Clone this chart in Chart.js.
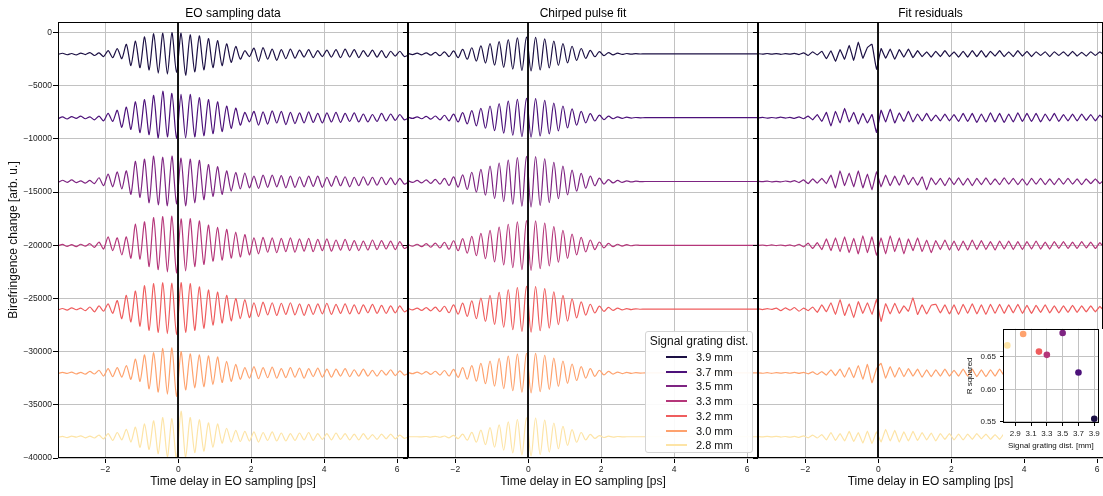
<!DOCTYPE html>
<html lang="en">
<head>
  <meta charset="UTF-8" />
  <title>EO sampling - chirped pulse fits</title>
  <script src="https://cdn.jsdelivr.net/npm/chart.js"></script>
  <style>
    * { margin: 0; padding: 0; box-sizing: border-box; }
    body {
      width: 1103px; height: 496px; background: #fff;
      position: relative; overflow: hidden;
      font-family: 'Liberation Sans', Arial, sans-serif;
    }
    canvas { position: absolute; top: 0; }
    #legend {
      position: absolute; left: 645px; top: 331px; width: 108px; height: 122px;
      border: 1px solid #d4d4d4; border-radius: 3px;
      background: rgba(255, 255, 255, 0.92);
      font-size: 11px; color: #111;
    }
    #legend .lg-title { position: absolute; left: 0; right: 0; top: 2px; font-size: 12px; line-height: 15px; text-align: center; }
    #legend .lg-row { position: absolute; left: 20px; height: 14px; line-height: 14px; }
    #legend .lg-line { position: absolute; left: 0; top: 6px; width: 21px; height: 2px; }
    #legend .lg-text { position: absolute; left: 30px; top: 0; white-space: nowrap; }
  </style>
</head>
<body>
  <canvas id="panelData" width="412" height="496" style="left:0px"></canvas>
  <canvas id="panelFit" width="362" height="496" style="left:400px"></canvas>
  <canvas id="panelRes" width="353" height="496" style="left:750px"></canvas>
  <canvas id="inset" width="143" height="137" style="left:960px; top:320px"></canvas>
  <div id="legend"></div>

  <script>
    // time delay grid [ps]
    const timePs = [
      -3.3, -3.175, -3.05, -2.925, -2.8, -2.675, -2.55, -2.425, -2.3, -2.175,
      -2.05, -1.925, -1.8, -1.675, -1.55, -1.425, -1.3, -1.175, -1.05, -0.925,
      -0.8, -0.675, -0.55, -0.425, -0.3, -0.175, -0.05, 0.075, 0.2, 0.325,
      0.45, 0.575, 0.7, 0.825, 0.95, 1.075, 1.2, 1.325, 1.45, 1.575,
      1.7, 1.825, 1.95, 2.075, 2.2, 2.325, 2.45, 2.575, 2.7, 2.825,
      2.95, 3.075, 3.2, 3.325, 3.45, 3.575, 3.7, 3.825, 3.95, 4.075,
      4.2, 4.325, 4.45, 4.575, 4.7, 4.825, 4.95, 5.075, 5.2, 5.325,
      5.45, 5.575, 5.7, 5.825, 5.95, 6.075, 6.2, 6.325
    ];

    const gratingLabels = ['3.9 mm', '3.7 mm', '3.5 mm', '3.3 mm', '3.2 mm', '3.0 mm', '2.8 mm'];
    const gratingDist = [3.9, 3.7, 3.5, 3.3, 3.2, 3.0, 2.8];
    const traceColors = ['#1c1044', '#4c117a', '#7e2482', '#b5367a', '#ef5d5e', '#fea26e', '#fde4a6'];
    const traceOffsets = [-2000, -8000, -14000, -20000, -26000, -32000, -38000];
    const rSquared = [0.555, 0.626, 0.6865, 0.653, 0.658, 0.685, 0.6675];

    const yTicks = [-40000, -35000, -30000, -25000, -20000, -15000, -10000, -5000, 0];
    const rsqXTicks = [2.9, 3.1, 3.3, 3.5, 3.7, 3.9];
    const rsqYTicks = [0.55, 0.60, 0.65];

    // EO sampling data (deviation from trace offset)
    const eoData39 = [
      -50, 60, -80, 40, -100, 80, -60, 120, -150, 100,
      -250, 300, -350, 500, -450, 900, -1100, 1200, -1300, 1600,
      -1500, 1900, -1800, 1950, -1900, 2000, -1750, 1950, -2000, 1800,
      -1700, 1700, -1500, 1450, -1300, 1250, -1100, 950, -800, 700,
      -500, 300, -250, 550, -700, 600, -500, 450, -600, 400,
      -450, 450, -400, 350, -300, 400, -350, 300, -250, 350,
      -300, 400, -350, 450, -300, 400, -350, 300, -250, 350,
      -300, 300, -350, 250, -200, 250, -250, -100
    ];
    const eoData37 = [
      -100, 80, -120, 100, -60, 150, -100, 80, -200, 150,
      -300, 400, -350, 700, -900, 1000, -1100, 1500, -1400, 1700,
      -1600, 2100, -1900, 2500, -1800, 2300, -1950, 2200, -1900, 2200,
      -1800, 1900, -1700, 1700, -1500, 1500, -1300, 1100, -1000, 900,
      -700, 500, -400, 600, -700, 550, -600, 650, -500, 600,
      -650, 500, -550, 450, -500, 550, -450, 400, -500, 450,
      -400, 500, -450, 400, -350, 450, -400, 350, -400, 300,
      -350, 400, -300, 350, -250, 300, -200, 0
    ];
    const eoData35 = [
      -100, 120, -80, 150, -100, 60, -150, 100, -200, 350,
      -400, 700, -500, 900, -700, 1000, -1200, 1900, -1500, 2100,
      -2000, 2400, -2200, 2300, -2300, 2400, -2100, 2200, -2300, 2100,
      -2000, 2000, -1700, 1600, -1400, 1400, -1200, 1000, -900, 850,
      -700, 800, -600, 500, -650, 600, -550, 600, -500, 550,
      -600, 500, -550, 450, -500, 500, -450, 500, -550, 400,
      -450, 500, -400, 450, -500, 400, -400, 450, -350, 400,
      -350, 400, -300, 350, -300, 300, -250, 0
    ];
    const eoData33 = [
      -50, 80, -100, 60, -120, 100, -80, 150, -200, 300,
      -350, 800, -500, 700, -900, 800, -1200, 2000, -1300, 2200,
      -2000, 2600, -2300, 2700, -2500, 2750, -2600, 2500, -2400, 2500,
      -2000, 2300, -1800, 1900, -1500, 1700, -1400, 1500, -1200, 1250,
      -1100, 1000, -900, 700, -800, 750, -650, 700, -700, 650,
      -600, 700, -650, 600, -550, 650, -600, 550, -500, 600,
      -550, 500, -450, 550, -500, 450, -500, 400, -450, 500,
      -400, 450, -350, 400, -400, 350, -300, 0
    ];
    const eoData32 = [
      -80, 60, -100, 120, -60, 100, -150, 200, -250, 300,
      -200, 500, -400, 800, -900, 1300, -1200, 1700, -1600, 2200,
      -2000, 2400, -2200, 2500, -2300, 2450, -2400, 2500, -2200, 2400,
      -2000, 2100, -1800, 1800, -1500, 1600, -1300, 1300, -1100, 1000,
      -900, 900, -800, 600, -700, 650, -550, 600, -600, 550,
      -500, 600, -550, 500, -600, 450, -500, 500, -450, 550,
      -500, 450, -400, 500, -450, 400, -450, 400, -350, 450,
      -400, 350, -400, 300, -350, 300, -250, 0
    ];
    const eoData30 = [
      -50, 60, -40, 80, -100, 60, -120, 150, -100, 250,
      -300, 400, -350, 500, -400, 700, -600, 1300, -800, 1700,
      -1500, 1900, -1800, 2300, -2000, 2350, -2200, 2000, -1600, 1800,
      -1400, 1700, -1300, 1600, -1100, 1500, -900, 1100, -800, 800,
      -600, 500, -500, 600, -550, 500, -450, 550, -500, 400,
      -450, 500, -400, 450, -500, 400, -350, 450, -400, 350,
      -400, 350, -300, 400, -350, 300, -300, 350, -300, 250,
      -300, 250, -200, 300, -250, 200, -200, 0
    ];
    const eoData28 = [
      -60, 40, -80, 50, -40, 80, -100, 60, -120, 150,
      -200, 300, -350, 400, -300, 700, -500, 900, -1000, 1200,
      -1200, 1500, -1600, 1800, -1900, 1700, -2100, 2400, -2000, 1800,
      -1500, 1600, -1350, 1300, -1000, 1200, -600, 800, -500, 600,
      -450, 500, -400, 450, -500, 400, -350, 450, -400, 350,
      -400, 300, -350, 350, -300, 400, -350, 300, -250, 300,
      -300, 350, -250, 300, -300, 250, -300, 300, -250, 200,
      -250, 250, -200, 250, -200, 150, -150, 0
    ];

    // chirped pulse fit
    const fit39 = [
      50, -60, 70, -90, 100, -120, 140, -170, 200, -250,
      290, -350, 420, -500, 580, -670, 760, -860, 960, -1060,
      1160, -1260, 1350, -1430, 1500, -1550, 1580, -1600, 1560, -1500,
      1420, -1320, 1200, -1080, 960, -840, 720, -610, 510, -420,
      340, -270, 210, -160, 120, -90, 70, -50, 40, -30,
      20, -10, 0, 0, 0, 0, 0, 0, 0, 0,
      0, 0, 0, 0, 0, 0, 0, 0, 0, 0,
      0, 0, 0, 0, 0, 0, 0, 0
    ];
    const fit37 = [
      60, -70, 80, -100, 120, -140, 160, -200, 230, -290,
      330, -400, 480, -580, 670, -770, 870, -990, 1100, -1220,
      1330, -1450, 1550, -1640, 1720, -1780, 1820, -1840, 1790, -1720,
      1630, -1520, 1380, -1240, 1100, -970, 830, -700, 590, -480,
      390, -310, 240, -180, 140, -100, 80, -60, 50, -30,
      20, -10, 0, 0, 0, 0, 0, 0, 0, 0,
      0, 0, 0, 0, 0, 0, 0, 0, 0, 0,
      0, 0, 0, 0, 0, 0, 0, 0
    ];
    const fit35 = [
      80, -90, 100, -130, 150, -180, 210, -250, 300, -370,
      430, -520, 630, -750, 870, -1000, 1140, -1290, 1440, -1590,
      1740, -1890, 2020, -2140, 2250, -2320, 2370, -2400, 2340, -2250,
      2130, -1980, 1800, -1620, 1440, -1260, 1080, -910, 760, -630,
      510, -400, 310, -240, 180, -130, 100, -80, 60, -40,
      30, -20, 0, 0, 0, 0, 0, 0, 0, 0,
      0, 0, 0, 0, 0, 0, 0, 0, 0, 0,
      0, 0, 0, 0, 0, 0, 0, 0
    ];
    const fit33 = [
      70, -90, 100, -130, 150, -180, 210, -250, 290, -370,
      430, -510, 620, -740, 850, -980, 1120, -1260, 1410, -1560,
      1710, -1850, 1980, -2100, 2210, -2280, 2320, -2350, 2300, -2200,
      2090, -1940, 1760, -1590, 1410, -1230, 1060, -900, 750, -620,
      500, -400, 310, -240, 180, -130, 100, -70, 60, -40,
      30, -10, 0, 0, 0, 0, 0, 0, 0, 0,
      0, 0, 0, 0, 0, 0, 0, 0, 0, 0,
      0, 0, 0, 0, 0, 0, 0, 0
    ];
    const fit32 = [
      70, -80, 90, -120, 140, -160, 190, -230, 270, -340,
      390, -470, 570, -680, 780, -900, 1030, -1160, 1300, -1430,
      1570, -1700, 1820, -1930, 2030, -2090, 2130, -2160, 2110, -2030,
      1920, -1780, 1620, -1460, 1300, -1130, 970, -820, 690, -570,
      460, -360, 280, -220, 160, -120, 90, -70, 50, -40,
      30, -10, 0, 0, 0, 0, 0, 0, 0, 0,
      0, 0, 0, 0, 0, 0, 0, 0, 0, 0,
      0, 0, 0, 0, 0, 0, 0, 0
    ];
    const fit30 = [
      60, -70, 80, -110, 120, -140, 160, -200, 230, -290,
      340, -410, 490, -590, 680, -780, 890, -1010, 1120, -1240,
      1360, -1470, 1580, -1670, 1760, -1810, 1850, -1870, 1830, -1760,
      1660, -1540, 1400, -1260, 1120, -980, 840, -710, 600, -490,
      400, -320, 250, -190, 140, -110, 80, -60, 50, -40,
      20, -10, 0, 0, 0, 0, 0, 0, 0, 0,
      0, 0, 0, 0, 0, 0, 0, 0, 0, 0,
      0, 0, 0, 0, 0, 0, 0, 0
    ];
    const fit28 = [
      0, 0, 0, -10, 20, -30, 40, -50, 70, -100,
      130, -180, 240, -320, 410, -510, 620, -740, 860, -990,
      1120, -1260, 1390, -1510, 1620, -1710, 1770, -1800, 1760, -1680,
      1570, -1440, 1290, -1130, 970, -810, 660, -520, 400, -300,
      220, -160, 110, -70, 50, -30, 20, -10, 0, 0,
      0, 0, 0, 0, 0, 0, 0, 0, 0, 0,
      0, 0, 0, 0, 0, 0, 0, 0, 0, 0,
      0, 0, 0, 0, 0, 0, 0, 0
    ];

    // fit residuals
    const res39 = [
      20, -30, 40, -20, 30, -40, 20, -30, 50, -60,
      100, -150, 200, -100, 250, -450, 300, -700, 400, -500,
      800, -600, 1100, -400, 600, 900, -1450, 500, -400, 450,
      -500, 400, -300, 450, -350, 300, -250, 200, -300, 250,
      -250, 300, -250, 200, -300, 250, -300, 300, -250, 300,
      -300, 250, -200, 300, -250, 200, -250, 300, -200, 250,
      -250, 200, -150, 200, -250, 200, -150, 200, -200, 250,
      -200, 150, -200, 200, -150, 200, -150, 0
    ];
    const res37 = [
      -20, 30, -40, 20, -30, 50, -40, 30, -60, 80,
      -100, 150, -200, 300, -350, 500, -780, 600, -500, 870,
      -400, 500, -600, 400, -500, 300, -1380, 700, -400, 800,
      -500, 450, -350, 600, -400, 350, -300, 400, -300, 250,
      -300, 350, -300, 300, -350, 400, -350, 400, -450, 350,
      -400, 450, -400, 400, -450, 350, -400, 450, -350, 400,
      -350, 400, -400, 350, -300, 400, -350, 300, -300, 350,
      -300, 350, -250, 300, -300, 250, -200, 0
    ];
    const res35 = [
      30, -20, 40, -30, 20, -40, 50, -30, 80, -100,
      150, -200, 250, -150, 300, -200, 600, -600, 1000, -400,
      800, -500, 1000, -600, 700, -780, 900, -500, 600, -400,
      500, -350, 600, -300, 400, -350, 450, -780, 350, -300,
      300, -400, 350, -300, 350, -350, 300, -400, 300, -300,
      350, -300, 250, -300, 350, -250, 300, -300, 250, -350,
      300, -250, 300, -300, 250, -300, 300, -250, 300, -250,
      250, -300, 250, -200, 250, -200, 200, 0
    ];
    const res33 = [
      -20, 30, -30, 40, -20, 30, -50, 40, -80, 100,
      -150, 200, -300, 250, -400, 600, -500, 700, -600, 800,
      -700, 650, -800, 900, -700, 800, -950, 700, -800, 900,
      -600, 700, -800, 600, -500, 700, -600, 500, -700, 450,
      -400, 500, -450, 400, -500, 400, -450, 500, -400, 450,
      -400, 350, -450, 400, -350, 400, -400, 350, -400, 350,
      -350, 400, -350, 300, -350, 350, -300, 350, -300, 300,
      -300, 350, -250, 300, -300, 250, -250, 0
    ];
    const res32 = [
      30, -40, 50, -30, 100, -150, 120, -100, 150, -200,
      100, -150, 200, -300, 400, -250, 600, -500, 900, -600,
      500, -800, 700, -400, 600, -500, 900, -1150, 500, -450,
      550, -400, 300, -200, 1050, -500, 400, -450, 350, 450,
      -350, 400, -450, 400, -500, 450, -400, 500, -450, 400,
      -500, 450, -400, 450, -400, 400, -350, 450, -400, 350,
      -400, 350, -300, 400, -350, 300, -350, 300, -300, 350,
      -300, 300, -250, 300, -250, 250, -200, 0
    ];
    const res30 = [
      20, -30, 20, -40, 30, -20, 40, -30, 50, -40,
      60, -80, 100, -150, 120, -200, 300, -250, 350, -400,
      500, -450, 700, -600, 800, -920, 400, 900, -500, 600,
      -400, 500, -350, 400, -300, 350, -400, 300, -350, 300,
      -300, 350, -300, 250, -300, 350, -300, 350, -350, 300,
      -350, 300, -300, 350, -250, 300, -300, 250, -300, 250,
      -250, 300, -250, 250, -300, 250, -200, 250, -250, 200,
      -250, 200, -200, 250, -200, 200, -150, 0
    ];
    const res28 = [
      20, -20, 30, -20, 40, -30, 20, -40, 30, -60,
      80, -100, 150, -120, 200, -300, 400, -350, 300, -400,
      500, -450, 400, -600, 530, -630, 450, -500, 700, -400,
      600, -500, 450, -400, 500, -350, 400, -300, 350, -400,
      300, -250, 300, -300, 250, -300, 250, -250, 300, -200,
      250, -250, 200, -250, 300, -200, 250, -250, 200, -250,
      250, -200, 200, -250, 200, -200, 250, -200, 200, -200,
      200, -150, 200, -200, 150, -150, 150, 0
    ];

    const eoData = [eoData39, eoData37, eoData35, eoData33, eoData32, eoData30, eoData28];
    const fitData = [fit39, fit37, fit35, fit33, fit32, fit30, fit28];
    const resData = [res39, res37, res35, res33, res32, res30, res28];

    const FONT = "'Liberation Sans', Arial, sans-serif";
    const GRID = '#c2c2c2';
    const minus = v => (v < 0 ? '\u2212' + Math.abs(v) : String(v));

    // black frame round the axes, plus the t = 0 marker line
    const framePlugin = {
      id: 'frame',
      afterDatasetsDraw(chart, args, opts) {
        const { ctx, chartArea: a } = chart;
        ctx.save();
        ctx.strokeStyle = '#000';
        if (opts.zeroLine) {
          const x0 = Math.round(chart.scales.x.getPixelForValue(0));
          ctx.lineWidth = 1.8;
          ctx.beginPath();
          ctx.moveTo(x0, a.top);
          ctx.lineTo(x0, a.bottom);
          ctx.stroke();
        }
        ctx.lineWidth = 1;
        ctx.strokeRect(Math.round(a.left) + 0.5, Math.round(a.top) + 0.5,
          Math.round(a.right) - Math.round(a.left) - 1, Math.round(a.bottom) - Math.round(a.top) - 1);
        ctx.restore();
      }
    };

    function traceSets(series, mode) {
      return series.map((vals, k) => ({
        label: gratingLabels[k],
        data: vals.map((v, i) => ({ x: timePs[i], y: v + traceOffsets[k] })),
        borderColor: traceColors[k],
        borderWidth: 1.2,
        pointRadius: 0,
        tension: mode.tension,
        cubicInterpolationMode: mode.smooth ? 'monotone' : 'default',
        fill: false
      }));
    }

    function panel(id, title, series, mode, opt) {
      return new Chart(document.getElementById(id), {
        type: 'line',
        data: { datasets: traceSets(series, mode) },
        plugins: [framePlugin],
        options: {
          responsive: false,
          animation: false,
          events: [],
          layout: { padding: { top: 0, left: 0, right: opt.padRight, bottom: 0 } },
          plugins: {
            legend: { display: false },
            tooltip: { enabled: false },
            frame: { zeroLine: true },
            title: {
              display: true, text: title, fullSize: false, color: '#000',
              font: { size: 12, family: FONT, weight: 'normal' },
              padding: { top: 6, bottom: 1.6 }
            }
          },
          scales: {
            x: {
              type: 'linear', min: -3.3, max: opt.xMax,
              afterFit: s => { s.height = 38; },
              border: { display: false },
              grid: { color: GRID, lineWidth: 1, tickLength: 5, tickColor: '#000', tickWidth: 1 },
              ticks: {
                stepSize: 2, includeBounds: false, padding: 2, maxRotation: 0,
                color: '#222', font: { size: 8.5, family: FONT }, callback: minus
              },
              title: {
                display: true, text: 'Time delay in EO sampling [ps]', color: '#111',
                font: { size: 12, family: FONT }, padding: { top: 0, bottom: 6.8 }
              }
            },
            y: {
              type: 'linear', min: -40000, max: 1000,
              afterFit: s => { s.width = opt.yWidth; },
              afterBuildTicks: s => { s.ticks = yTicks.map(v => ({ value: v })); },
              border: { display: false },
              grid: { color: GRID, lineWidth: 1, tickLength: 5, tickColor: '#000', tickWidth: 1 },
              ticks: {
                display: opt.showY, padding: 1,
                color: '#222', font: { size: 8.5, family: FONT }, callback: minus
              },
              title: {
                display: opt.showY, text: 'Birefringence change [arb. u.]', color: '#111',
                font: { size: 12, family: FONT }, padding: { top: 6.8, bottom: 0 }
              }
            }
          }
        }
      });
    }

    panel('panelData', 'EO sampling data', eoData, { tension: 0.25, smooth: false },
      { padRight: 4, xMax: 6.3, yWidth: 58, showY: true });
    panel('panelFit', 'Chirped pulse fit', fitData, { tension: 0, smooth: true },
      { padRight: 4, xMax: 6.3, yWidth: 8, showY: false });
    panel('panelRes', 'Fit residuals', resData, { tension: 0.1, smooth: false },
      { padRight: 0, xMax: 6.16, yWidth: 8, showY: false });

    // R squared inset
    const insetBackground = {
      id: 'insetBackground',
      beforeDraw(chart) {
        const { ctx, chartArea: a } = chart;
        ctx.save();
        ctx.fillStyle = '#fff';
        ctx.fillRect(Math.round(a.left), Math.round(a.top), chart.width - Math.round(a.left), chart.height - Math.round(a.top));
        ctx.restore();
      }
    };

    new Chart(document.getElementById('inset'), {
      type: 'scatter',
      data: {
        datasets: [{
          data: gratingDist.map((d, i) => ({ x: d, y: rSquared[i] })),
          backgroundColor: traceColors,
          borderWidth: 0,
          pointRadius: 3.3
        }]
      },
      plugins: [insetBackground, framePlugin],
      options: {
        responsive: false,
        animation: false,
        events: [],
        layout: { padding: { top: 7, right: 2, left: 0, bottom: 0 } },
        plugins: { legend: { display: false }, tooltip: { enabled: false }, frame: { zeroLine: false } },
        scales: {
          x: {
            type: 'linear', min: 2.745, max: 3.955,
            afterFit: s => { s.height = 34; },
            afterBuildTicks: s => { s.ticks = rsqXTicks.map(v => ({ value: v })); },
            border: { display: false },
            grid: { color: GRID, lineWidth: 1, tickLength: 3, tickColor: '#000' },
            ticks: { padding: 3, maxRotation: 0, color: '#222', font: { size: 8, family: FONT }, callback: v => v.toFixed(1) },
            title: { display: true, text: 'Signal grating dist. [mm]', color: '#111', font: { size: 8, family: FONT }, padding: { top: 0, bottom: 6.5 } }
          },
          y: {
            type: 'linear', min: 0.5484, max: 0.693,
            afterFit: s => { s.width = 43; },
            afterBuildTicks: s => { s.ticks = rsqYTicks.map(v => ({ value: v })); },
            border: { display: false },
            grid: { color: GRID, lineWidth: 1, tickLength: 3, tickColor: '#000' },
            ticks: { padding: 4, color: '#222', font: { size: 8, family: FONT }, callback: v => v.toFixed(2) },
            title: { display: true, text: 'R squared', color: '#111', font: { size: 8, family: FONT }, padding: { top: 5, bottom: 0 } }
          }
        }
      }
    });

    // legend for the grating distances
    document.getElementById('legend').innerHTML =
      '<div class="lg-title">Signal grating dist.</div>' +
      gratingLabels.map((l, i) =>
        '<div class="lg-row" style="top:' + Math.round(18 + 14.7 * i) + 'px">' +
        '<span class="lg-line" style="background:' + traceColors[i] + '"></span>' +
        '<span class="lg-text">' + l + '</span></div>'
      ).join('');
  </script>
</body>
</html>
